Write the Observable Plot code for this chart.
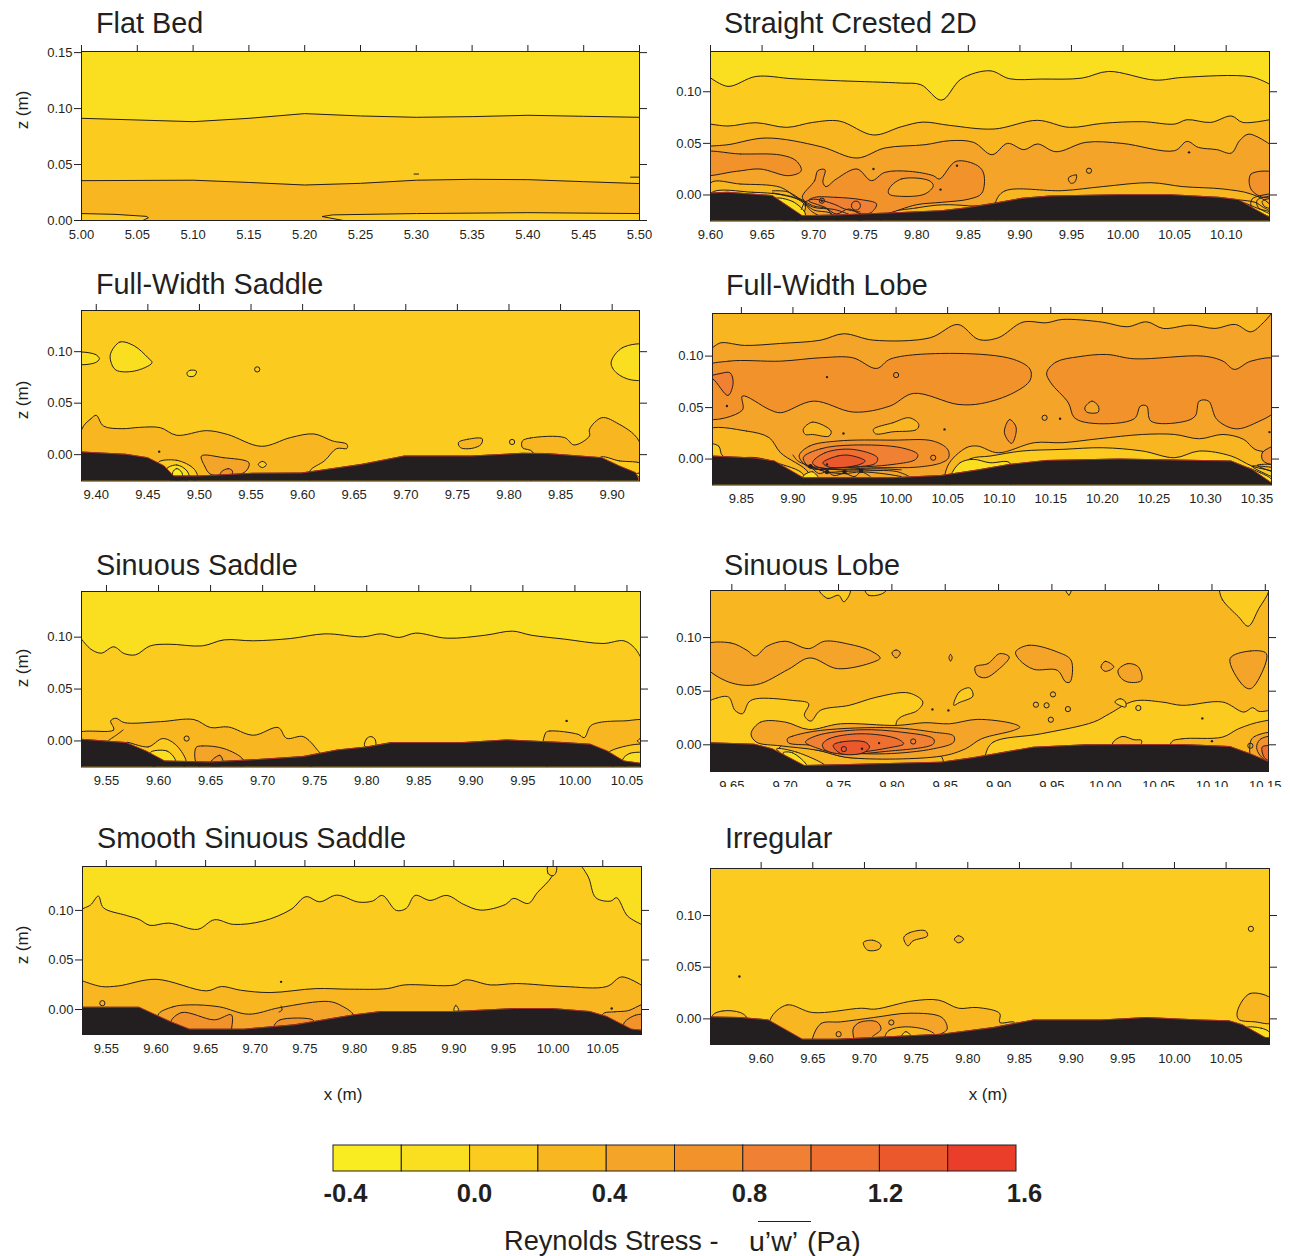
<!DOCTYPE html>
<html><head><meta charset="utf-8">
<script src="https://cdn.jsdelivr.net/npm/d3@7"></script>
<script src="https://cdn.jsdelivr.net/npm/@observablehq/plot@0.6"></script>
<style>
body{margin:0;background:#fff;font-family:"Liberation Sans",Arial,sans-serif;color:#231F20}
#page{position:relative;width:1290px;height:1256px;overflow:hidden}
.t{position:absolute;white-space:nowrap;line-height:1}
</style></head><body><div id="page"></div>
<script>
const stressColors=["#F9ED22","#FADF20","#FCCB20","#F8B620","#F4A529","#F2922B","#F08033","#EE6F30","#EB582C","#EA3D2A"];
const stressBreaks=[-0.4,-0.2,0,0.2,0.4,0.6,0.8,1.0,1.2,1.4,1.6];
const stressLabels=[-0.4,0,0.4,0.8,1.2,1.6];

// Flat Bed
const flatUpper=[[5.00,.0913],[5.10,.0883],[5.15,.0913],[5.20,.0955],[5.25,.0934],[5.30,.0922],[5.35,.0928],[5.40,.094],[5.45,.0931],[5.50,.0922]];
const flatLower=[[5.00,.0356],[5.10,.036],[5.15,.034],[5.20,.0317],[5.25,.0332],[5.30,.036],[5.35,.0368],[5.40,.0365],[5.45,.0347],[5.50,.033]];
const flatPatchA=[[5.00,.0062],[5.03,.0055],[5.058,.0037],[5.06,.0025],[5.055,0],[5.00,0]];
const flatPatchB=[[5.216,.0036],[5.225,.005],[5.30,.0062],[5.40,.007],[5.50,.0062],[5.50,0],[5.235,0]];
const flatDashA=[[5.298,.0415],[5.302,.0415]];
const flatDashB=[[5.492,.0387],[5.50,.0387]];

// Straight Crested 2D
const scA=[[9.600,.1135],[9.617,.1052],[9.644,.1148],[9.680,.1126],[9.726,.1106],[9.785,.1084],[9.804,.1068],[9.824,.0919],[9.843,.1123],[9.871,.1203],[9.890,.1126],[9.921,.1123],[9.960,.1132],[9.986,.1197],[10.031,.1113],[10.058,.1139],[10.124,.1145],[10.142,.1074]];
const scB=[[9.600,.0687],[9.617,.0668],[9.644,.0700],[9.674,.0655],[9.699,.0703],[9.725,.0716],[9.758,.0581],[9.785,.0661],[9.806,.0706],[9.832,.0674],[9.875,.0639],[9.917,.0723],[9.948,.0655],[9.980,.0694],[10.019,.0710],[10.05,.0687],[10.062,.0729],[10.085,.0703],[10.105,.0765],[10.116,.0703],[10.142,.0729]];
const scC=[[9.600,.0474],[9.617,.0487],[9.654,.0552],[9.707,.0468],[9.742,.0358],[9.769,.0455],[9.808,.0487],[9.832,.0526],[9.855,.0510],[9.873,.0390],[9.888,.0500],[9.904,.0439],[9.917,.0494],[9.935,.0419],[9.964,.0510],[9.999,.0500],[10.05,.0429],[10.062,.0519],[10.073,.0461],[10.091,.0439],[10.105,.0406],[10.113,.0526],[10.122,.0590],[10.142,.0494]];
const scLeftC3=[[9.600,.0116],[9.629,.0106],[9.668,.0074],[9.683,-.0023],[9.692,-.0071],[9.683,-.0252],[9.600,-.0252]];
const scLeftC2=[[9.600,.0016],[9.641,.0026],[9.668,.0003],[9.687,-.0055],[9.692,-.012],[9.683,-.0252],[9.600,-.0252]];
const scLeftC1=[[9.662,-.0039],[9.680,-.0065],[9.692,-.0184],[9.689,-.0232],[9.668,-.0232]];
const scRightC3=[[9.877,-.0055],[9.886,.0042],[9.941,.0042],[9.980,.0081],[10.027,.0119],[10.058,.0081],[10.097,.0058],[10.124,.001],[10.142,-.0087],[10.15,-.0252],[9.877,-.0252]];
const scMidC3=[[9.765,-.0195],[9.80,-.0125],[9.825,-.0095],[9.85,-.0105],[9.865,-.0125],[9.865,-.025],[9.765,-.025]];
const scBlobL=[[9.59,.0403],[9.629,.0397],[9.668,.0387],[9.683,.0332],[9.688,.0235],[9.676,.0187],[9.648,.0252],[9.625,.0229],[9.59,.0203]];
const scBlobMain=[[9.689,-.0023],[9.701,.0139],[9.704,.0235],[9.711,.0245],[9.709,.0123],[9.712,.0081],[9.722,.0155],[9.742,.0252],[9.756,.0139],[9.769,.0219],[9.793,.0229],[9.816,.0187],[9.822,.0155],[9.838,.0326],[9.859,.0284],[9.865,.0203],[9.863,.0016],[9.851,-.0039],[9.824,-.0071],[9.800,-.0094],[9.769,-.0184],[9.758,-.0184],[9.746,-.0248],[9.722,-.0248],[9.713,-.0135],[9.699,-.0103]];
const scHole=[[9.773,.0058],[9.785,.0155],[9.812,.0139],[9.816,.0090],[9.808,.0010],[9.785,-.0013],[9.773,.0010]];
const scHot=[[9.701,-.0023],[9.722,-.0023],[9.746,-.0045],[9.761,-.0087],[9.756,-.0168],[9.746,-.0184],[9.734,-.0135],[9.722,-.0184],[9.711,-.0119],[9.695,-.0055]];
const scBlobR=[[10.15,.0203],[10.124,.0203],[10.124,.0058],[10.136,-.0023],[10.15,0]];
const scBlobS=[[9.947,.0165],[9.955,.0194],[9.953,.0123],[9.949,.0116]];
const scYellowR=[[10.116,-.0071],[10.132,-.0135],[10.142,-.0168],[10.142,-.0216]];
const scFan=[
 [[9.691,-.007],[9.70,-.012],[9.72,-.014],[9.735,-.019]],
 [[9.691,-.007],[9.70,-.0145],[9.715,-.017],[9.72,-.02]],
 [[9.691,-.007],[9.697,-.015],[9.705,-.02]],
 [[9.691,-.007],[9.70,-.004],[9.72,-.009],[9.73,-.0135],[9.745,-.0165]],
 [[9.691,-.007],[9.675,.003],[9.66,.004]],
 [[9.691,-.007],[9.68,-.002],[9.66,.002]],
 [[9.691,-.007],[9.688,-.014]],
 [[10.112,-.0048],[10.128,-.0071],[10.136,-.0119],[10.142,-.0152]],
 [[10.142,-.0035],[10.135,-.006],[10.137,-.011],[10.142,-.013]],
 [[10.142,-.001],[10.13,-.005],[10.131,-.012],[10.142,-.018]],
 [[10.142,.001],[10.125,-.004],[10.125,-.013],[10.142,-.021]]];
const scDots=[[9.758,.0252],[9.839,.0284],[9.823,.0052],[10.064,.0413],[9.708,-.0055]];
const scRings=[[9.967,.0235],[9.708,-.0055]];
const scBigRings=[[9.741,-.0103]];
const scBed=[[9.600,.0019],[9.617,.0026],[9.660,-.0006],[9.689,-.02],[9.722,-.0194],[9.781,-.0171],[9.824,-.0152],[9.847,-.0126],[9.875,-.0081],[9.902,-.0032],[9.929,-.001],[9.995,.0003],[10.046,.0003],[10.093,-.0023],[10.112,-.0045],[10.142,-.0216]];

// Full-Width Saddle
const fsMain=[[9.386,.0246],[9.395,.035],[9.40,.0382],[9.407,.0278],[9.425,.0252],[9.442,.0265],[9.462,.0262],[9.478,.0188],[9.507,.0233],[9.527,.0197],[9.56,.0081],[9.588,.0165],[9.611,.0201],[9.629,.0133],[9.643,.01],[9.643,.0061],[9.633,.0058],[9.621,-.0061],[9.607,-.0159],[9.605,-.03],[9.386,-.03]];
const fsRight=[[9.813,.0133],[9.821,.0162],[9.854,.0165],[9.863,.0094],[9.878,.0181],[9.878,.0246],[9.89,.0359],[9.904,.0311],[9.926,.0133],[9.93,-.03],[9.823,-.03],[9.823,.0026],[9.813,.0068]];
const fsRightC2=[[9.888,-.0029],[9.907,-.0061],[9.93,-.01],[9.93,-.03],[9.89,-.03]];
const fsRightC1=[[9.923,-.0191],[9.926,-.0181],[9.93,-.024]];
const fsC4=[[9.502,-.0013],[9.523,-.0029],[9.548,-.0078],[9.546,-.0149],[9.539,-.0191],[9.511,-.0191],[9.505,-.011]];
const fsC5=[[9.521,-.017],[9.528,-.0136],[9.532,-.016],[9.53,-.022],[9.52,-.022]];
const fsArc1=[[9.46,-.0078],[9.478,-.0055],[9.495,-.0142],[9.498,-.024],[9.47,-.024]];
const fsArc2=[[9.468,-.0142],[9.478,-.01],[9.488,-.0159],[9.49,-.024],[9.474,-.024]];
const fsArc3=[[9.474,-.0175],[9.478,-.0135],[9.483,-.0175],[9.483,-.024],[9.476,-.024]];
const fsSmallC2=[[9.557,-.0095],[9.561,-.0065],[9.565,-.0095],[9.561,-.0126]];
const fsYellowA=[[9.38,.0984],[9.399,.0974],[9.403,.0932],[9.399,.0893],[9.38,.0887]];
const fsYellowB=[[9.414,.0984],[9.423,.1094],[9.437,.1055],[9.45,.0942],[9.454,.0893],[9.437,.0812],[9.419,.0822],[9.414,.0909]];
const fsYellowC=[[9.935,.1055],[9.910,.1039],[9.899,.0893],[9.904,.0796],[9.919,.0725],[9.935,.0748]];
const fsYellowD=[[9.488,.0796],[9.491,.0819],[9.497,.0812],[9.495,.0764],[9.489,.0764]];
const fsC3Blob=[[9.751,.0117],[9.76,.0149],[9.774,.0155],[9.773,.01],[9.764,.0061],[9.753,.0068]];
const fsRings=[[9.556,.0828],[9.803,.0123]];
const fsDots=[[9.461,.0029]];
const fsBed=[[9.386,.0026],[9.429,.0003],[9.45,-.0029],[9.466,-.011],[9.475,-.0207],[9.499,-.0207],[9.552,-.0181],[9.599,-.0178],[9.625,-.0142],[9.658,-.0094],[9.699,-.0013],[9.764,-.0013],[9.813,.0013],[9.837,.001],[9.89,-.0029],[9.907,-.011],[9.923,-.0175],[9.926,-.024]];

// Full-Width Lobe
const flTop=[[9.822,.1081],[9.830,.1129],[9.853,.1104],[9.888,.1123],[9.927,.1155],[9.949,.1217],[9.978,.1155],[10.033,.1178],[10.06,.1307],[10.08,.1162],[10.099,.1178],[10.123,.133],[10.146,.1324],[10.161,.1356],[10.2,.133],[10.224,.1285],[10.243,.1333],[10.259,.1269],[10.286,.1301],[10.309,.1269],[10.329,.1307],[10.344,.1236],[10.356,.1324],[10.364,.1414]];
const flBigL=[[9.815,.0887],[9.838,.0951],[9.888,.0951],[9.927,.0984],[9.958,.0984],[9.981,.088],[9.995,.0974],[10.06,.1026],[10.114,.0968],[10.13,.0871],[10.13,.0767],[10.114,.0644],[10.083,.054],[10.06,.0531],[10.017,.0638],[9.994,.0515],[9.959,.0456],[9.92,.0563],[9.888,.045],[9.877,.0482],[9.851,.0612],[9.851,.0476],[9.815,.0401]];
const flLeftC6=[[9.815,.079],[9.83,.0832],[9.839,.0838],[9.842,.0741],[9.837,.0618],[9.822,.078]];
const flBigR=[[10.146,.0838],[10.155,.0942],[10.177,.0994],[10.204,.1016],[10.231,.0974],[10.298,.1],[10.317,.0951],[10.328,.0871],[10.344,.0951],[10.37,.0961],[10.37,.0498],[10.349,.0353],[10.329,.0294],[10.311,.0385],[10.303,.0563],[10.294,.0563],[10.29,.0417],[10.278,.0362],[10.247,.0369],[10.243,.0515],[10.237,.0515],[10.231,.0392],[10.192,.0346],[10.173,.0401],[10.167,.0547],[10.15,.0741]];
const flHoleR=[[10.183,.0498],[10.19,.0563],[10.196,.0515],[10.196,.0456],[10.185,.0456]];
const flLeftC3=[[9.815,.0272],[9.855,.0272],[9.877,.0207],[9.888,.0061],[9.915,-.0133],[9.915,-.026],[9.815,-.026]];
const flLeftC2=[[9.815,.0142],[9.828,.0126],[9.832,.0029],[9.865,.0013],[9.884,-.0036],[9.91,-.0149],[9.91,-.026],[9.815,-.026]];
const flLeftC1=[[9.91,-.0165],[9.919,-.0123],[9.925,-.0197],[9.91,-.0197]];
const flRightC3=[[10.05,-.0068],[10.068,.011],[10.079,.0126],[10.099,.0061],[10.134,.0159],[10.161,.0159],[10.196,.0197],[10.239,.0239],[10.27,.0239],[10.294,.0197],[10.317,.0239],[10.337,.0191],[10.348,.0094],[10.37,.0029],[10.37,-.026],[10.05,-.026]];
const flRightC2=[[10.056,-.0133],[10.072,.0003],[10.091,.0029],[10.122,.0078],[10.161,.0094],[10.2,.011],[10.239,.0078],[10.27,.0013],[10.294,.0078],[10.325,.0029],[10.345,-.0068],[10.37,-.0149],[10.37,-.026],[10.056,-.026]];
const flRightC1=[[10.053,-.0165],[10.062,-.0036],[10.075,-.0003],[10.091,-.0036],[10.11,-.0036],[10.11,-.026],[10.053,-.026]];
const flEdgeC5=[[10.37,.0126],[10.355,.0061],[10.356,-.0019],[10.37,-.0052]];
const flEdgeC1=[[10.34,-.0084],[10.353,-.0133],[10.364,-.0197],[10.364,-.0246]];
const flHot5=[[9.906,.0029],[9.916,.0126],[9.943,.0175],[9.997,.0184],[10.036,.0175],[10.05,.0094],[10.051,.0013],[10.044,-.0036],[10.021,-.0078],[9.982,-.0084],[9.939,-.01],[9.916,-.0084]];
const flHot6=[[9.91,.0013],[9.927,.01],[9.958,.0136],[10.005,.011],[10.021,.0045],[10.019,-.0003],[9.997,-.0052],[9.947,-.0084],[9.917,-.0084]];
const flHot7=[[9.919,-.0036],[9.931,.0061],[9.958,.0094],[9.982,.0013],[9.98,-.0042],[9.947,-.0081],[9.926,-.0084]];
const flHot8=[[9.929,-.0036],[9.943,.0029],[9.955,.0036],[9.97,-.0019],[9.962,-.0061],[9.935,-.0078]];
const flC3A=[[9.91,.0288],[9.919,.0359],[9.937,.0272],[9.935,.0223],[9.919,.0239],[9.912,.0239]];
const flC3B=[[9.978,.0288],[9.997,.0353],[10.013,.0401],[10.022,.0337],[10.02,.0288],[9.997,.0265],[9.98,.0246]];
const flC5C=[[10.105,.0256],[10.11,.0385],[10.116,.032],[10.116,.0239],[10.112,.0152]];
const flFan=[
 [[9.917,-.007],[9.945,-.0105],[9.985,-.0095],[10.005,-.0105]],
 [[9.917,-.007],[9.933,-.0125],[9.95,-.012],[9.966,-.0115],[10.0,-.012],[10.012,-.0165]],
 [[9.917,-.007],[9.933,-.0125],[9.95,-.014],[9.966,-.0125],[9.99,-.0145],[10.005,-.017]],
 [[9.917,-.007],[9.925,-.014],[9.933,-.0125],[9.94,-.016],[9.95,-.014],[9.96,-.017],[9.966,-.0125],[9.975,-.017]],
 [[9.917,-.007],[9.905,-.002],[9.90,.004]],
 [[10.364,-.005],[10.35,-.006],[10.364,-.012]],
 [[10.364,-.008],[10.345,-.007],[10.364,-.017]]];
const flStars=[[9.917,-.007],[9.933,-.0125],[9.95,-.0125],[9.966,-.0115]];
const flDots=[[9.836,.0515],[9.933,.0796],[9.949,.0249],[10.047,.0288],[10.159,.0392],[9.933,-.0052],[10.362,.0262]];
const flRings=[[10.0,.0816],[10.144,.0401],[10.036,.0013]];
const flBed=[[9.822,.0029],[9.863,.001],[9.882,-.0019],[9.91,-.0181],[9.943,-.0181],[9.997,-.0181],[10.044,-.0159],[10.079,-.0107],[10.11,-.0052],[10.146,-.0013],[10.216,0],[10.325,-.0019],[10.345,-.01],[10.364,-.023]];

// Sinuous Saddle
const ssTop=[[9.526,.0981],[9.535,.0884],[9.545,.0846],[9.557,.0907],[9.567,.0842],[9.578,.083],[9.592,.0916],[9.61,.0932],[9.642,.0916],[9.663,.0974],[9.691,.0965],[9.727,.0987],[9.76,.1032],[9.796,.1003],[9.814,.1032],[9.831,.0997],[9.847,.1039],[9.877,.099],[9.914,.1019],[9.94,.1058],[9.958,.1019],[9.99,.0981],[10.027,.0939],[10.047,.0965],[10.057,.09],[10.063,.081]];
const ssMain=[[9.52,.0064],[9.557,.0106],[9.554,.0193],[9.559,.0219],[9.567,.0177],[9.602,.0186],[9.634,.0206],[9.65,.0129],[9.667,.0135],[9.691,.0055],[9.715,.0129],[9.723,.0026],[9.739,.0042],[9.752,-.008],[9.755,-.0129],[9.748,-.0241],[9.52,-.0241]];
const ssC4=[[9.636,-.0064],[9.642,-.0048],[9.663,-.0074],[9.681,-.0177],[9.681,-.0241],[9.638,-.0241]];
const ssC5=[[9.65,-.0203],[9.659,-.0138],[9.662,-.0203],[9.66,-.024],[9.65,-.024]];
const ssC2=[[9.569,-.0016],[9.59,-.0058],[9.604,.0023],[9.616,-.0032],[9.626,-.0177],[9.626,-.0241],[9.594,-.0241]];
const ssC1=[[9.592,-.0113],[9.608,-.0096],[9.616,-.0177],[9.616,-.0225],[9.6,-.0225]];
const ssRight=[[9.972,.008],[9.976,.0096],[10.003,.0064],[10.009,.0032],[10.015,.0145],[10.023,.0177],[10.047,.0193],[10.07,.0183],[10.07,-.0241],[9.972,-.0241]];
const ssRightC2=[[10.031,-.0129],[10.043,-.0064],[10.07,-.0048],[10.07,-.0241],[10.035,-.0241]];
const ssRightC1=[[10.046,-.0177],[10.053,-.0119],[10.07,-.0129],[10.07,-.0241],[10.047,-.0241]];
const ssEdge=[[10.07,.005],[10.06,.0],[10.07,-.005]];
const ssBump=[[9.798,-.0048],[9.8,.0023],[9.804,.0042],[9.808,.0016],[9.808,-.0064]];
const ssWiggle=[[9.552,.0006],[9.56,.006],[9.566,.0106]];
const ssRings=[[9.627,.0023]];
const ssDots=[[9.992,.0193]];
const ssBed=[[9.526,.0016],[9.569,-.0016],[9.588,-.0096],[9.606,-.0193],[9.65,-.0203],[9.699,-.0177],[9.739,-.0151],[9.772,-.0087],[9.8,-.0058],[9.824,-.0016],[9.893,-.0016],[9.934,.001],[9.99,-.0016],[10.015,-.0032],[10.031,-.0096],[10.047,-.0193],[10.063,-.0215]];

// Sinuous Lobe
const slBandC2=[[9.625,.0368],[9.636,.0436],[9.647,.0445],[9.653,.0321],[9.66,.029],[9.666,.0399],[9.673,.043],[9.707,.0414],[9.722,.0383],[9.718,.0274],[9.724,.0221],[9.733,.0321],[9.76,.0368],[9.786,.0445],[9.816,.0483],[9.829,.0399],[9.824,.0321],[9.805,.0227],[9.805,-.0245],[9.625,-.0245]];
const slRightC2=[[9.888,-.0084],[9.895,.0025],[9.94,.0103],[9.989,.0212],[10.004,.029],[10.027,.0408],[10.053,.0399],[10.072,.0368],[10.11,.0399],[10.13,.0305],[10.138,.0346],[10.144,.0312],[10.16,.0305],[10.16,-.0245],[9.888,-.0245]];
const slRightC3A=[[10.007,.0019],[10.016,.0078],[10.027,.0047],[10.034,.0041],[10.03,-.005],[10.007,-.005]];
const slRightC3B=[[10.062,.0025],[10.072,.0056],[10.11,.0072],[10.125,.015],[10.147,.0218],[10.16,.0218],[10.16,-.0245],[10.062,-.0245]];
const slEdgeC4=[[10.136,.0025],[10.14,.0078],[10.16,.0103],[10.16,-.0245],[10.14,-.0245]];
const slEdgeC5=[[10.142,-.0006],[10.146,.0056],[10.16,.0072],[10.16,-.02],[10.144,-.0084]];
const slEdgeC7=[[10.147,-.0022],[10.153,-.0006],[10.16,-.0006],[10.16,-.0146],[10.15,-.013]];
const slUnder=[[9.696,-.001],[9.73,-.005],[9.76,-.012],[9.80,-.011],[9.846,-.0106],[9.846,-.0245],[9.696,-.0245]];
const slUnderC2=[[9.692,-.0037],[9.711,-.0069],[9.737,-.0193],[9.715,-.0193]];
const slUnderC1=[[9.698,-.0075],[9.707,-.0075],[9.72,-.0193],[9.71,-.0193]];
const slBand4=[[9.668,.0103],[9.677,.0212],[9.7,.0212],[9.722,.0143],[9.752,.0196],[9.805,.0181],[9.831,.0206],[9.854,.0196],[9.88,.0237],[9.914,.0196],[9.92,.0165],[9.914,.0134],[9.884,.0056],[9.869,-.0037],[9.846,-.0106],[9.76,-.012],[9.73,-.005],[9.696,-.001],[9.673,.0025]];
const slBand5=[[9.702,.0056],[9.707,.0081],[9.733,.0134],[9.801,.0159],[9.839,.0118],[9.858,.0081],[9.858,.0025],[9.839,-.0037],[9.794,-.0084],[9.756,-.0069],[9.726,-.0006],[9.703,.0019]];
const slBand6=[[9.719,.0025],[9.73,.0087],[9.771,.014],[9.809,.0118],[9.839,.0056],[9.839,.0009],[9.794,-.0062],[9.752,-.0084],[9.73,-.0031]];
const slBand7=[[9.735,.0003],[9.741,.0056],[9.771,.0103],[9.805,.0056],[9.811,.0009],[9.797,-.0028],[9.771,-.0069],[9.75,-.0084],[9.737,-.0044]];
const slBand8=[[9.745,-.0006],[9.752,.0025],[9.775,.0025],[9.779,-.0022],[9.773,-.0075],[9.752,-.0081]];
const slBlobs4=[
 [[9.625,.0928],[9.649,.095],[9.664,.0882],[9.672,.0829],[9.683,.0919],[9.7,.0966],[9.722,.0897],[9.737,.0966],[9.76,.0938],[9.779,.0882],[9.789,.081],[9.783,.0773],[9.749,.071],[9.723,.081],[9.703,.0704],[9.673,.0561],[9.647,.0586],[9.625,.0741]],
 [[9.916,.0866],[9.928,.0928],[9.955,.0866],[9.968,.0788],[9.967,.0586],[9.963,.0586],[9.955,.0695],[9.933,.0704],[9.92,.0788]],
 [[9.878,.0726],[9.89,.0757],[9.901,.085],[9.91,.0819],[9.899,.0695],[9.888,.0626],[9.88,.0648]],
 [[9.996,.0726],[10.0,.0779],[10.008,.0726],[10.0,.0685]],
 [[10.012,.0695],[10.021,.0757],[10.031,.0726],[10.034,.0601],[10.021,.0586],[10.014,.0632]],
 [[10.117,.0804],[10.136,.0875],[10.151,.085],[10.144,.0617],[10.136,.0523],[10.129,.0555]],
 [[9.8,.0857],[9.804,.0885],[9.808,.0857],[9.804,.081]],
 [[9.8535,.0813],[9.855,.0845],[9.8565,.0813],[9.855,.078]]];
const slBlobsC2=[
 [[10.107,.1439],[10.11,.135],[10.125,.1193],[10.134,.1106],[10.144,.1271],[10.153,.1427],[10.153,.15],[10.107,.15]],
 [[9.732,.1445],[9.74,.1364],[9.75,.1395],[9.755,.1333],[9.761,.1445]],
 [[9.775,.1445],[9.778,.1395],[9.79,.1405],[9.795,.1445]],
 [[9.963,.1445],[9.966,.1395],[9.968,.1445]],
 [[9.858,.0368],[9.863,.0492],[9.873,.053],[9.876,.0455],[9.863,.0393]],
 [[10.009,.0399],[10.014,.043],[10.019,.0399],[10.019,.0352]]];
const slRings=[[9.755,-.004],[9.82,.0031],[10.031,.0343],[9.935,.0374],[9.945,.0368],[9.951,.047],[9.965,.0333],[9.949,.0234],[10.136,-.0009]];
const slDots=[[9.772,-.0037],[9.788,.0016],[9.838,.033],[9.853,.0321],[10.091,.0246],[10.1,.0034]];
const slBed=[[9.63,.0019],[9.671,.0006],[9.688,-.0037],[9.718,-.0193],[9.76,-.0184],[9.846,-.0162],[9.876,-.0121],[9.933,-.0022],[9.982,0],[10.072,.0003],[10.117,-.0016],[10.136,-.0084],[10.153,-.0156]];

// Smooth Sinuous Saddle
const smTop=[[9.526,.1017],[9.534,.1054],[9.542,.1144],[9.547,.1027],[9.57,.095],[9.583,.0909],[9.594,.0849],[9.613,.0872],[9.642,.0809],[9.659,.0906],[9.678,.0859],[9.708,.0893],[9.736,.101],[9.751,.1138],[9.765,.1087],[9.782,.1154],[9.804,.1084],[9.818,.1094],[9.828,.1151],[9.842,.1],[9.852,.102],[9.861,.1151],[9.876,.1101],[9.893,.1151],[9.91,.106],[9.927,.1003],[9.952,.106],[9.96,.1121],[9.975,.107],[9.984,.1178],[9.999,.1346],[10.003,.15],[10.022,.15],[10.035,.1346],[10.043,.1128],[10.058,.1094],[10.064,.1128],[10.075,.0943],[10.089,.0859]];
const smMid=[[9.526,.0289],[9.545,.0232],[9.562,.0238],[9.6,.0305],[9.651,.0188],[9.666,.0232],[9.685,.0195],[9.715,.0171],[9.761,.0211],[9.795,.0205],[9.833,.0211],[9.85,.0248],[9.901,.0248],[9.912,.0299],[9.937,.0248],[9.963,.0262],[10.011,.0232],[10.054,.0232],[10.069,.0329],[10.089,.0245]];
const smC4=[[9.602,-.0057],[9.617,.0027],[9.634,.0047],[9.664,.0027],[9.693,-.0047],[9.725,.002],[9.774,.0081],[9.787,.0037],[9.799,-.0064],[9.782,-.0248],[9.617,-.0248]];
const smC5A=[[9.615,-.0131],[9.626,-.003],[9.659,-.0104],[9.676,-.0054],[9.676,-.0215],[9.676,-.0265],[9.634,-.0265]];
const smC5B=[[9.719,-.0164],[9.725,-.0104],[9.758,-.0104],[9.759,-.0131],[9.74,-.0265],[9.719,-.0265]];
const smRightC4=[[10.05,-.0047],[10.062,-.0023],[10.075,-.0013],[10.095,.0054],[10.095,-.0265],[10.054,-.0265]];
const smRightC5=[[10.071,-.0148],[10.083,-.0057],[10.095,-.0064],[10.095,-.0265],[10.08,-.0265]];
const smBump=[[9.9,-.0012],[9.902,.0044],[9.905,-.0012]];
const smHairpin=[[9.995,.1455],[9.995,.137],[10.0,.135],[10.003,.1385],[10.003,.1455]];
const smWiggle=[[9.726,.0035],[9.727,-.0005],[9.724,-.0025]];
const smRings=[[9.546,.0064]];
const smDots=[[9.726,.0279],[10.059,.001]];
const smBed=[[9.526,.0023],[9.583,.0023],[9.615,-.0124],[9.634,-.0198],[9.689,-.0198],[9.74,-.0154],[9.799,-.0054],[9.827,-.002],[9.901,-.002],[9.961,.001],[9.999,.001],[10.037,-.002],[10.054,-.007],[10.079,-.0198],[10.089,-.0208]];

// Irregular
const irMain=[[9.609,-.0003],[9.625,.0135],[9.65,.0061],[9.697,.0103],[9.71,.0094],[9.747,.0174],[9.772,.0181],[9.791,.0103],[9.809,.011],[9.831,.0052],[9.831,-.0035],[9.845,-.0035],[9.833,-.0245],[9.611,-.0245]];
const irC4=[[9.65,-.0181],[9.658,-.0045],[9.677,-.0029],[9.709,.0013],[9.744,.0055],[9.775,.0013],[9.78,-.01],[9.771,-.0165],[9.765,-.0245],[9.65,-.0245]];
const irC5=[[9.689,-.01],[9.695,-.0035],[9.712,-.0029],[9.716,-.01],[9.707,-.0181],[9.705,-.0245],[9.693,-.0245]];
const irC3=[[9.72,-.0165],[9.724,-.011],[9.74,-.0077],[9.763,-.0116],[9.769,-.0165],[9.769,-.0245],[9.72,-.0245]];
const irC2=[[9.736,-.0165],[9.74,-.0123],[9.745,-.0165],[9.745,-.0245],[9.736,-.0245]];
const irLeft=[[9.553,.0035],[9.563,.0077],[9.58,.0061],[9.586,.0013],[9.586,-.008],[9.553,-.008]];
const irRight=[[10.061,.0077],[10.073,.0245],[10.095,.0184],[10.095,-.0035],[10.078,-.0029],[10.062,-.0003]];
const irRightC1=[[10.07,-.0084],[10.084,-.009],[10.092,-.013],[10.092,-.02],[10.085,-.02]];
const irBlobA=[[9.699,.0739],[9.708,.0761],[9.716,.0716],[9.714,.0674],[9.703,.0665]];
const irBlobB=[[9.738,.0787],[9.744,.0835],[9.759,.0852],[9.761,.0803],[9.747,.0755],[9.742,.0706]];
const irBlobC=[[9.787,.0771],[9.791,.0805],[9.796,.0771],[9.791,.0735]];
const irRings=[[10.074,.0871],[9.675,-.0148],[9.726,-.0035]];
const irDots=[[9.579,.041]];
const irBed=[[9.551,.0019],[9.58,.0013],[9.607,-.001],[9.64,-.0197],[9.674,-.0197],[9.775,-.0148],[9.825,-.0084],[9.864,-.001],[9.93,-.001],[9.973,.0013],[10.024,-.001],[10.053,-.0019],[10.066,-.0058],[10.088,-.0181],[10.092,-.0181]];

const ink="#231F20";
const rows=p=>p.map(([x,z])=>({x,z}));
const seq=(a,b)=>{const o=[];for(let i=Math.round(a*100);i<=Math.round(b*100);i+=5)o.push(i/100);return o};

// layer: ["down",colorIndex,pts] | ["blob",colorIndex,pts] | ["line",pts]
const panels=[
{title:"Flat Bed",tx:96,ty:35,box:[81,51,558,169],xd:[5,5.5],yd:[0,.151],xt:seq(5,5.5),yt:[0,.05,.1,.15],base:1,linear:true,zl:110,layers:[
 ["down",2,flatUpper],["down",3,flatLower],["blob",2,flatPatchA],["blob",2,flatPatchB],["line",flatDashA],["line",flatDashB]]},
{title:"Straight Crested 2D",tx:724,ty:35,box:[710,51,559,169.5],xd:[9.6,10.142],yd:[-.0252,.139],xt:seq(9.6,10.1),yt:[0,.05,.1],base:1,layers:[
 ["down",2,scA],["down",3,scB],["down",4,scC],["blob",3,scLeftC3],["blob",2,scLeftC2],["blob",1,scLeftC1],["blob",3,scRightC3],["blob",3,scMidC3],
 ["blob",5,scBlobL],["blob",5,scBlobMain],["blob",4,scHole],["blob",6,scHot],["blob",5,scBlobR],["blob",4,scBlobS],["blob",1,scYellowR],...scFan.map(f=>["line",f])],
 dots:scDots,rings:scRings,big:scBigRings,bed:scBed},
{title:"Full-Width Saddle",tx:96,ty:296,box:[81,309.5,558,170.5],xd:[9.3857,9.9265],yd:[-.0256,.14],xt:seq(9.4,9.9),yt:[0,.05,.1],base:2,zl:400,layers:[
 ["blob",3,fsMain],["blob",3,fsRight],["blob",2,fsRightC2],["blob",1,fsRightC1],["blob",4,fsC4],["blob",5,fsC5],["blob",2,fsArc1],["blob",1,fsArc2],["blob",0,fsArc3],["blob",2,fsSmallC2],
 ["blob",1,fsYellowA],["blob",1,fsYellowB],["blob",1,fsYellowC],["blob",1,fsYellowD],["blob",3,fsC3Blob]],dots:fsDots,rings:fsRings,bed:fsBed},
{title:"Full-Width Lobe",tx:726,ty:297,box:[712,312.5,559,171.5],xd:[9.822,10.364],yd:[-.0252,.1414],xt:seq(9.85,10.35),yt:[0,.05,.1],base:3,layers:[
 ["down",4,flTop],["blob",5,flBigL],["blob",6,flLeftC6],["blob",5,flBigR],["blob",4,flHoleR],["blob",3,flLeftC3],["blob",2,flLeftC2],["blob",1,flLeftC1],["blob",3,flRightC3],["blob",2,flRightC2],["blob",1,flRightC1],["blob",5,flEdgeC5],["blob",1,flEdgeC1],
 ["blob",5,flHot5],["blob",6,flHot6],["blob",7,flHot7],["blob",8,flHot8],["blob",3,flC3A],["blob",3,flC3B],["blob",5,flC5C],...flFan.map(f=>["line",f])],
 dots:flDots,rings:flRings,stars:flStars,bed:flBed},
{title:"Sinuous Saddle",tx:96,ty:577,box:[81,590.5,559,175.5],xd:[9.526,10.063],yd:[-.0251,.144],xt:seq(9.55,10.05),yt:[0,.05,.1],base:1,zl:668,layers:[
 ["down",2,ssTop],["blob",3,ssMain],["blob",4,ssC4],["blob",5,ssC5],["blob",2,ssC2],["blob",1,ssC1],["blob",3,ssRight],["blob",2,ssRightC2],["blob",1,ssRightC1],["blob",2,ssEdge],["blob",2,ssBump],["line",ssWiggle]],
 dots:ssDots,rings:ssRings,bed:ssBed},
{title:"Sinuous Lobe",tx:724,ty:577,box:[710,590,558,181],xd:[9.63,10.153],yd:[-.0249,.1439],xt:seq(9.65,10.15),yt:[0,.05,.1],base:3,mb:16,layers:[
 ["blob",2,slBandC2],["blob",2,slRightC2],["blob",3,slRightC3A],["blob",3,slRightC3B],["blob",4,slEdgeC4],["blob",5,slEdgeC5],["blob",7,slEdgeC7],["blob",3,slUnder],["blob",2,slUnderC2],["blob",1,slUnderC1],
 ["blob",4,slBand4],["blob",5,slBand5],["blob",6,slBand6],["blob",7,slBand7],["blob",8,slBand8],...slBlobs4.map(b=>["blob",4,b]),...slBlobsC2.map(b=>["blob",2,b])],
 dots:slDots,rings:slRings,bed:slBed},
{title:"Smooth Sinuous Saddle",tx:97,ty:850,box:[82,865.5,559,168],xd:[9.526,10.089],yd:[-.0252,.1443],xt:seq(9.55,10.05),yt:[0,.05,.1],base:1,zl:945,layers:[
 ["down",2,smTop],["down",3,smMid],["blob",4,smC4],["blob",5,smC5A],["blob",5,smC5B],["blob",4,smRightC4],["blob",5,smRightC5],["blob",2,smBump],["blob",2,smHairpin],["line",smWiggle]],
 dots:smDots,rings:smRings,bed:smBed},
{title:"Irregular",tx:725,ty:850,box:[710,867.5,559,176],xd:[9.551,10.092],yd:[-.0248,.1455],xt:seq(9.6,10.05),yt:[0,.05,.1],base:2,layers:[
 ["blob",3,irMain],["blob",4,irC4],["blob",5,irC5],["blob",3,irC3],["blob",2,irC2],["blob",3,irLeft],["blob",3,irRight],["blob",1,irRightC1],["blob",3,irBlobA],["blob",3,irBlobB],["blob",3,irBlobC]],
 dots:irDots,rings:irRings,bed:irBed}
];

const page=document.getElementById("page");
function addText(txt,x,y,size,css=""){const d=document.createElement("div");d.className="t";d.textContent=txt;d.style.cssText=`left:${x}px;top:${y}px;font-size:${size}px;${css}`;page.appendChild(d);return d}
const place=(svg,l,t)=>{svg.style.position="absolute";svg.style.left=l+"px";svg.style.top=t+"px";svg.style.maxWidth="none";svg.style.background="transparent";page.appendChild(svg)};

const SW=1;
for(const p of panels){
 const [L,T,W,H]=p.box,ml=50,mr=21,mt=10,mb=p.mb??28;
 const closed=p.linear?"linear-closed":"catmull-rom-closed",open=p.linear?"linear":"catmull-rom";
 const bottom=p.yd[0]-.01;
 const marks=[Plot.frame({fill:stressColors[p.base],stroke:null})];
 for(const l of p.layers){
  if(l[0]==="down"){
   const r=rows(l[2]);
   marks.push(Plot.areaY(r,{x:"x",y1:()=>bottom,y2:"z",fill:stressColors[l[1]],curve:open,clip:true}));
   marks.push(Plot.line(r,{x:"x",y:"z",stroke:ink,strokeWidth:SW,curve:open,clip:true}));
  }else if(l[0]==="blob"){
   marks.push(Plot.line(rows(l[2]),{x:"x",y:"z",fill:stressColors[l[1]],stroke:ink,strokeWidth:SW,curve:closed,clip:true}));
  }else{
   marks.push(Plot.line(rows(l[1]),{x:"x",y:"z",stroke:ink,strokeWidth:SW,curve:open,clip:true}));
  }
 }
 if(p.dots)marks.push(Plot.dot(rows(p.dots),{x:"x",y:"z",r:1.2,fill:ink,stroke:null,clip:true}));
 if(p.rings)marks.push(Plot.dot(rows(p.rings),{x:"x",y:"z",r:2.6,stroke:ink,strokeWidth:SW,clip:true}));
 if(p.big)marks.push(Plot.dot(rows(p.big),{x:"x",y:"z",r:4.5,stroke:ink,strokeWidth:SW,clip:true}));
 if(p.stars)marks.push(Plot.dot(rows(p.stars),{x:"x",y:"z",r:2.2,fill:ink,stroke:null,clip:true}));
 if(p.bed){
  const b=rows(p.bed);
  marks.push(Plot.areaY(b,{x:"x",y1:()=>bottom,y2:"z",fill:ink,curve:"linear",clip:true}));
  marks.push(Plot.line(b,{x:"x",y:"z",stroke:"#B5332A",strokeWidth:.9,curve:"linear",clip:true}));
 }
 marks.push(Plot.frame({stroke:ink,strokeWidth:1}));
 const fmt=d3.format(".2f");
 marks.push(Plot.axisX({anchor:"bottom",ticks:p.xt,tickSize:0,tickPadding:9,tickFormat:fmt,label:null,fontSize:13,fill:ink}));
 marks.push(Plot.axisX({anchor:"top",ticks:p.xt,tickSize:7,text:null,label:null,stroke:ink}));
 marks.push(Plot.axisY({anchor:"left",ticks:p.yt,tickSize:7,tickPadding:2,tickFormat:fmt,label:null,fontSize:13,fill:ink,stroke:ink}));
 marks.push(Plot.axisY({anchor:"right",ticks:p.yt,tickSize:7,text:null,label:null,stroke:ink}));
 const svg=Plot.plot({width:W+ml+mr,height:H+mt+mb,marginLeft:ml,marginRight:mr,marginTop:mt,marginBottom:mb,
  x:{domain:p.xd},y:{domain:p.yd},style:{fontFamily:"Liberation Sans",background:"transparent"},marks});
 place(svg,L-ml,T-mt);
 addText(p.title,p.tx,p.ty-26,28.8);
 if(p.zl){addText("z (m)",21.5,p.zl,17,"transform:translate(-50%,-50%) rotate(-90deg)")}
}
addText("x (m)",343,1094,17,"transform:translate(-50%,-50%)");
addText("x (m)",988,1094,17,"transform:translate(-50%,-50%)");

// colour key
const keyCells=stressColors.map((c,i)=>({lo:stressBreaks[i],hi:stressBreaks[i+1],c}));
place(Plot.plot({width:685,height:28,marginLeft:1,marginRight:1,marginTop:1,marginBottom:1,
 x:{domain:[-.4,1.6],axis:null},y:{domain:[0,1],axis:null},color:{type:"identity"},
 marks:[Plot.rect(keyCells,{x1:"lo",x2:"hi",y1:()=>0,y2:()=>1,fill:"c",stroke:ink,strokeWidth:1})],
 style:{background:"transparent"}}),332,1144);
const labelNudge=[0,-6.8,-7.6,-3.4,-3.2,0];
place(Plot.plot({width:779,height:36,marginLeft:50,marginRight:50,marginTop:0,marginBottom:0,
 x:{domain:[-.4,1.6],axis:null},y:{axis:null,domain:[0,1]},
 marks:stressLabels.map((v,i)=>Plot.text([v],{x:d=>d,y:()=>.5,text:d=>d.toFixed(1),dx:labelNudge[i],fontSize:25.5,fontWeight:"bold",fill:ink})),
 style:{fontFamily:"Liberation Sans",background:"transparent"}}),295,1175);
addText("Reynolds Stress -",504,1227,27.2);
addText("u\u2019w\u2019",749,1227,28.5);
addText("(Pa)",807,1227,28.5);
const bar=document.createElement("div");bar.style.cssText=`position:absolute;left:758px;top:1221px;width:53px;height:1px;background:${ink}`;page.appendChild(bar);
</script></body></html>
